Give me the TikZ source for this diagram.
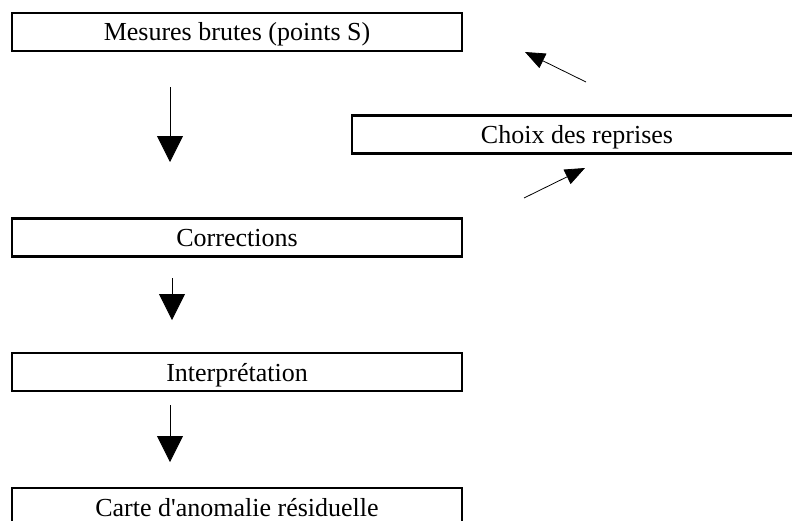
\documentclass[tikz,border=0pt]{standalone}
\usepackage{fontspec}
\setmainfont{Liberation Serif}
\usetikzlibrary{positioning}
\usetikzlibrary{arrows.meta}

\begin{document}
\begin{tikzpicture}[x=1pt,y=-1pt,
  etape/.style={draw,line width=2.2pt,minimum width=450pt,minimum height=38pt,inner sep=0pt,text height=18pt,text depth=0pt,font=\fontsize{26}{30}\selectfont},
  fleche/.style={line width=0.8pt,-{Triangle[length=26pt,width=26pt]}},
  retour/.style={line width=0.8pt,-{Triangle[length=20pt,width=16pt]}}]
  \clip (0,0) rectangle (792,520);
  \node[etape] (mesures) at (237,31.7) {Mesures brutes (points S)};
  \node[etape] (choix) at (577,134.5) {Choix des reprises};
  \node[etape] (corrections) at (237,237.5) {Corrections};
  \node[etape] (interpretation) at (237,372) {Interprétation};
  \node[etape] (carte) at (237,507) {Carte d\textquotesingle anomalie résiduelle};
  % ends of the arrows
  \coordinate (m1) at (170,87);
  \coordinate (c1) at (170,162);
  \coordinate (c2) at (172,278);
  \coordinate (i2) at (172,320);
  \coordinate (i3) at (170,405);
  \coordinate (r3) at (170,462);
  \coordinate (h1) at (586,82);
  \coordinate (h2) at (525,52);
  \coordinate (b1) at (524,198);
  \coordinate (b2) at (585,168);
  \draw[fleche] (m1) -- (c1);
  \draw[fleche] (c2) -- (i2);
  \draw[fleche] (i3) -- (r3);
  \draw[retour] (h1) -- (h2);
  \draw[retour] (b1) -- (b2);
\end{tikzpicture}
\end{document}
